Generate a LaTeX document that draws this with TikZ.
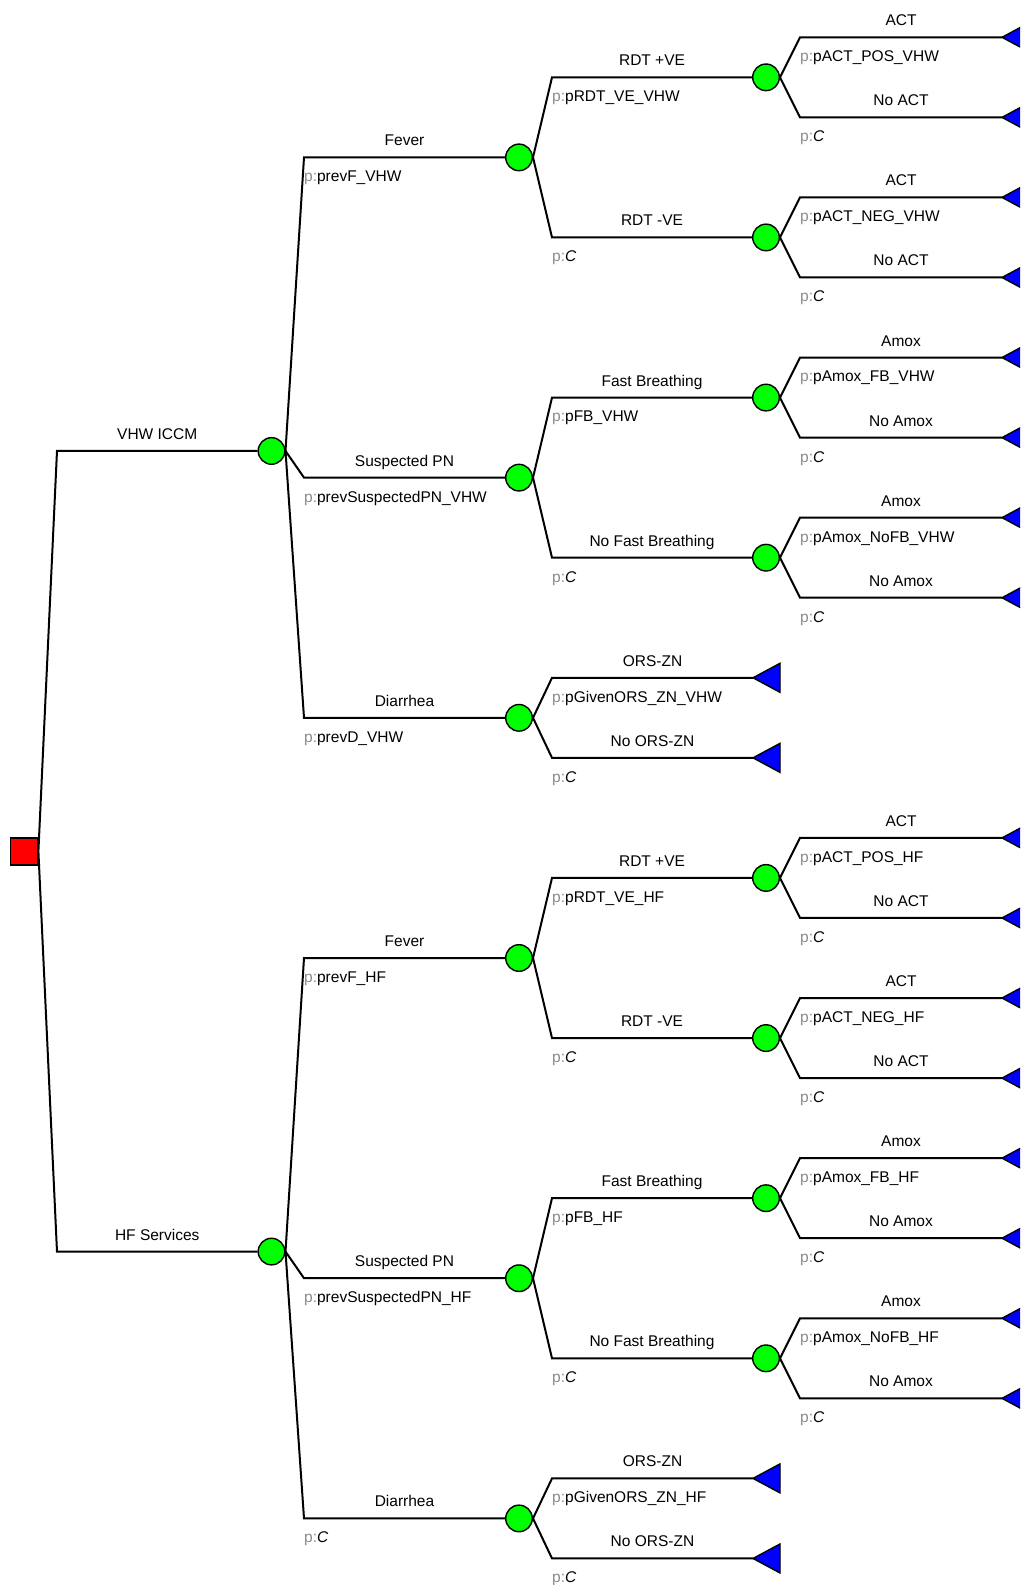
\documentclass[tikz,border=0pt]{standalone}
\usepackage{fontspec}
\setmainfont{Liberation Sans}
\definecolor{cgreen}{RGB}{0,255,0}
\definecolor{pgray}{RGB}{140,140,140}
\newcommand\fs{\fontsize{15.5pt}{18pt}\selectfont}
\newcommand\pp[1]{\textcolor{pgray}{p:}#1}
\newcommand\pc{\pp{\textit{C}}}
\newcommand\mybr[6]{%
  \draw[brl] (#1.east) -- (#2,#3) -- (#4);
  \path (#2,#3) -- (#4) node[lab]{#5};
  \node[prob] at (#2,#3) {#6};}
\newcommand\myterm[3]{%
  \coordinate (#1) at (#2,#3);
  \filldraw[term] (#1) -- ++(27pt,14.5pt) -- ++(0pt,-29pt) -- cycle;}
\begin{document}
\begin{tikzpicture}[x=1pt,y=-80.06pt,
  brl/.style={line width=2pt, draw=black},
  chance/.style={circle, draw=black, line width=1.4pt, fill=cgreen, minimum size=26.6pt, inner sep=0pt},
  dec/.style={rectangle, draw=black, line width=1.8pt, fill=red, minimum size=27pt, inner sep=0pt},
  term/.style={draw=black, line width=1.4pt, fill=blue, line join=miter},
  lab/.style={midway, font=\fs, anchor=base, inner sep=0pt, yshift=11.5pt},
  prob/.style={font=\fs, anchor=base west, inner sep=0pt, yshift=-24.4pt}]
\clip (0,-0.4659) rectangle (1020,19.3317);
\fill[white] (0,-0.4659) rectangle (1020,19.3317);
% decision node
\node[dec] (root) at (24,10.1667) {};
% level 1
\node[chance] (v1) at (271.5,5.1667) {};
\node[chance] (h1) at (271.5,15.1667) {};
% level 2
\node[chance] (vF) at (519,1.5) {};
\node[chance] (vS) at (519,5.5) {};
\node[chance] (vD) at (519,8.5) {};
\node[chance] (hF) at (519,11.5) {};
\node[chance] (hS) at (519,15.5) {};
\node[chance] (hD) at (519,18.5) {};
% level 3
\node[chance] (vR1) at (766,0.5) {};
\node[chance] (vR2) at (766,2.5) {};
\node[chance] (vA1) at (766,4.5) {};
\node[chance] (vA2) at (766,6.5) {};
\node[chance] (hR1) at (766,10.5) {};
\node[chance] (hR2) at (766,12.5) {};
\node[chance] (hA1) at (766,14.5) {};
\node[chance] (hA2) at (766,16.5) {};
% terminals
\myterm{vO1}{753}{8}
\myterm{vO2}{753}{9}
\myterm{hO1}{753}{18}
\myterm{hO2}{753}{19}
\myterm{t0}{1002}{0}
\myterm{t1}{1002}{1}
\myterm{t2}{1002}{2}
\myterm{t3}{1002}{3}
\myterm{t4}{1002}{4}
\myterm{t5}{1002}{5}
\myterm{t6}{1002}{6}
\myterm{t7}{1002}{7}
\myterm{t10}{1002}{10}
\myterm{t11}{1002}{11}
\myterm{t12}{1002}{12}
\myterm{t13}{1002}{13}
\myterm{t14}{1002}{14}
\myterm{t15}{1002}{15}
\myterm{t16}{1002}{16}
\myterm{t17}{1002}{17}
% level 1 branches
\mybr{root}{57}{5.1667}{v1.west}{VHW ICCM}{}
\mybr{root}{57}{15.1667}{h1.west}{HF Services}{}
% VHW level 2
\mybr{v1}{304}{1.5}{vF.west}{Fever}{\pp{prevF\_VHW}}
\mybr{v1}{304}{5.5}{vS.west}{Suspected PN}{\pp{prevSuspectedPN\_VHW}}
\mybr{v1}{304}{8.5}{vD.west}{Diarrhea}{\pp{prevD\_VHW}}
% VHW level 3
\mybr{vF}{552}{0.5}{vR1.west}{RDT +VE}{\pp{pRDT\_VE\_VHW}}
\mybr{vF}{552}{2.5}{vR2.west}{RDT -VE}{\pc}
\mybr{vS}{552}{4.5}{vA1.west}{Fast Breathing}{\pp{pFB\_VHW}}
\mybr{vS}{552}{6.5}{vA2.west}{No Fast Breathing}{\pc}
\mybr{vD}{552}{8}{vO1}{ORS-ZN}{\pp{pGivenORS\_ZN\_VHW}}
\mybr{vD}{552}{9}{vO2}{No ORS-ZN}{\pc}
% VHW level 4
\mybr{vR1}{800}{0}{t0}{ACT}{\pp{pACT\_POS\_VHW}}
\mybr{vR1}{800}{1}{t1}{No ACT}{\pc}
\mybr{vR2}{800}{2}{t2}{ACT}{\pp{pACT\_NEG\_VHW}}
\mybr{vR2}{800}{3}{t3}{No ACT}{\pc}
\mybr{vA1}{800}{4}{t4}{Amox}{\pp{pAmox\_FB\_VHW}}
\mybr{vA1}{800}{5}{t5}{No Amox}{\pc}
\mybr{vA2}{800}{6}{t6}{Amox}{\pp{pAmox\_NoFB\_VHW}}
\mybr{vA2}{800}{7}{t7}{No Amox}{\pc}
% HF level 2
\mybr{h1}{304}{11.5}{hF.west}{Fever}{\pp{prevF\_HF}}
\mybr{h1}{304}{15.5}{hS.west}{Suspected PN}{\pp{prevSuspectedPN\_HF}}
\mybr{h1}{304}{18.5}{hD.west}{Diarrhea}{\pc}
% HF level 3
\mybr{hF}{552}{10.5}{hR1.west}{RDT +VE}{\pp{pRDT\_VE\_HF}}
\mybr{hF}{552}{12.5}{hR2.west}{RDT -VE}{\pc}
\mybr{hS}{552}{14.5}{hA1.west}{Fast Breathing}{\pp{pFB\_HF}}
\mybr{hS}{552}{16.5}{hA2.west}{No Fast Breathing}{\pc}
\mybr{hD}{552}{18}{hO1}{ORS-ZN}{\pp{pGivenORS\_ZN\_HF}}
\mybr{hD}{552}{19}{hO2}{No ORS-ZN}{\pc}
% HF level 4
\mybr{hR1}{800}{10}{t10}{ACT}{\pp{pACT\_POS\_HF}}
\mybr{hR1}{800}{11}{t11}{No ACT}{\pc}
\mybr{hR2}{800}{12}{t12}{ACT}{\pp{pACT\_NEG\_HF}}
\mybr{hR2}{800}{13}{t13}{No ACT}{\pc}
\mybr{hA1}{800}{14}{t14}{Amox}{\pp{pAmox\_FB\_HF}}
\mybr{hA1}{800}{15}{t15}{No Amox}{\pc}
\mybr{hA2}{800}{16}{t16}{Amox}{\pp{pAmox\_NoFB\_HF}}
\mybr{hA2}{800}{17}{t17}{No Amox}{\pc}
\end{tikzpicture}
\end{document}
